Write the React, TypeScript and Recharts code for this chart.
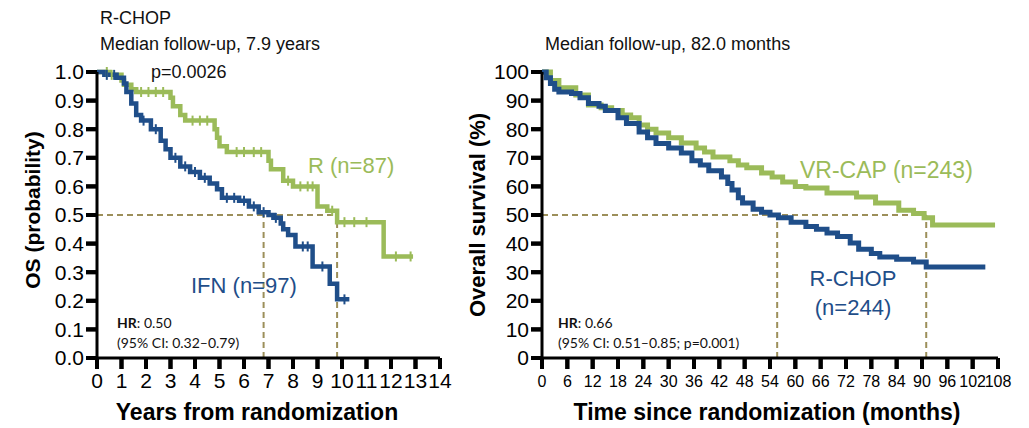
import React from 'react';
import { ComposedChart, Line, Scatter, XAxis, YAxis, ReferenceLine } from 'recharts';

// ---------- Left panel (years, probability) ----------
const leftXTicks = [0, 1, 2, 3, 4, 5, 6, 7, 8, 9, 10, 11, 12, 13, 14];
const leftYTicks = [0, 0.1, 0.2, 0.3, 0.4, 0.5, 0.6, 0.7, 0.8, 0.9, 1.0];

const rTimes = [0, 0.5, 1.0, 1.1, 1.4, 1.6, 3.0, 3.1, 3.4, 3.6, 4.8, 4.9, 5.0, 5.3, 7.0, 7.1, 7.6, 8.0, 9.0, 9.4, 9.8, 11.7, 12.9];
const rSurv = [1.0, 0.99, 0.97, 0.955, 0.94, 0.93, 0.91, 0.88, 0.85, 0.83, 0.8, 0.77, 0.74, 0.72, 0.69, 0.66, 0.62, 0.6, 0.53, 0.515, 0.475, 0.355, 0.355];

const ifnTimes = [0, 0.3, 0.8, 1.1, 1.2, 1.4, 1.6, 1.8, 2.2, 2.6, 2.8, 3.0, 3.4, 3.8, 4.2, 4.6, 4.9, 5.1, 5.8, 6.2, 6.6, 7.0, 7.2, 7.5, 7.6, 7.8, 8.1, 8.8, 9.5, 9.8, 10.3];
const ifnSurv = [1.0, 0.99, 0.98, 0.96, 0.93, 0.89, 0.85, 0.83, 0.8, 0.76, 0.73, 0.7, 0.67, 0.65, 0.63, 0.61, 0.59, 0.56, 0.55, 0.53, 0.51, 0.5, 0.49, 0.47, 0.45, 0.43, 0.39, 0.32, 0.26, 0.205, 0.205];

const rCensorT = [0.4, 0.6, 1.8, 2.1, 2.4, 2.7, 3.9, 4.2, 4.5, 5.7, 6.0, 6.4, 6.7, 7.8, 8.3, 8.6, 8.8, 9.6, 10.1, 10.5, 11.0, 12.2, 12.8];
const rCensorS = [1.0, 0.99, 0.93, 0.93, 0.93, 0.93, 0.83, 0.83, 0.83, 0.72, 0.72, 0.72, 0.72, 0.62, 0.6, 0.6, 0.6, 0.515, 0.475, 0.475, 0.475, 0.355, 0.355];
const ifnCensorT = [0.4, 0.7, 1.9, 2.4, 3.2, 3.6, 4.0, 4.4, 5.3, 5.6, 6.0, 6.4, 6.8, 7.3, 8.4, 8.6, 9.2, 10.1];
const ifnCensorS = [0.99, 0.99, 0.83, 0.8, 0.7, 0.67, 0.65, 0.63, 0.56, 0.56, 0.55, 0.53, 0.51, 0.49, 0.39, 0.39, 0.32, 0.205];

// ---------- Right panel (months, %) ----------
const rightXTicks = [0, 6, 12, 18, 24, 30, 36, 42, 48, 54, 60, 66, 72, 78, 84, 90, 96, 102, 108];
const rightYTicks = [0, 10, 20, 30, 40, 50, 60, 70, 80, 90, 100];

const vrTimes = [0, 2, 4, 8, 11, 14, 16.5, 19, 21, 23, 25, 27, 30, 33, 36.5, 38.5, 40.5, 44.5, 46.5, 48.5, 52, 54.5, 57, 60, 62.5, 67.5, 74.5, 79, 84.5, 88, 90.5, 92.5, 107.3];
const vrSurv = [100, 97, 94.5, 92, 88.5, 87.5, 86.5, 85, 84, 81.5, 80, 78.7, 77, 75.2, 73.4, 72, 70.3, 69, 67.5, 66.5, 64.7, 63.3, 61.5, 60, 59.4, 57.7, 56.3, 54.2, 51.7, 50.5, 49, 46.5, 46.5];

const rchopTimes = [0, 1, 2, 3, 4, 7, 9, 11, 13.5, 15, 18, 20, 23, 25, 27, 30, 33, 35.5, 37.5, 39.5, 42.5, 44, 45, 46.5, 47.5, 50, 52, 54, 56, 59, 62.5, 65, 67.5, 70, 73, 75, 78, 80, 84, 88, 91, 105];
const rchopSurv = [100, 98, 96, 94, 93, 92.5, 91, 89, 88, 86.5, 84, 82, 79, 77, 75, 73.4, 71.7, 69, 67.5, 65.5, 63.3, 61, 58.7, 56, 54.2, 52, 51, 50, 49, 47.5, 46, 45, 43.7, 42.5, 40.2, 38, 36.5, 35.3, 34.5, 33.6, 31.8, 31.8];

const GREEN = '#9bbb59';
const BLUE = '#1f4e89';
const DASH = '#9c8f5a';
const FONT = '"Liberation Sans", Arial, sans-serif';

const zip = (ts: number[], ss: number[]) => ts.map((t, i) => ({ t, s: ss[i] }));

const rData = zip(rTimes, rSurv);
const ifnData = zip(ifnTimes, ifnSurv);
const rCens = zip(rCensorT, rCensorS);
const ifnCens = zip(ifnCensorT, ifnCensorS);
const vrData = zip(vrTimes, vrSurv);
const rchopData = zip(rchopTimes, rchopSurv);

const censorShape = (color: string) => (props: any) => {
  const { cx, cy } = props;
  if (cx == null || cy == null) return <g />;
  return <line x1={cx} x2={cx} y1={cy - 5} y2={cy + 5} stroke={color} strokeWidth={2} />;
};

const TICK_SIZE = 11;
const X_MARGIN_L = 4;
const X_MARGIN_R = 7;
const Y_MARGIN = 2;

const makeXTick = (fontSize: number, margin: number, fmt?: (v: number) => string) => (props: any) => {
  const { x, y, payload } = props;
  const top = y - margin - TICK_SIZE;
  return (
    <g>
      <line x1={x} x2={x} y1={top} y2={top + TICK_SIZE} stroke="#000" strokeWidth={4} />
      <text x={x} y={y} dy="0.71em" textAnchor="middle" fontSize={fontSize} fontFamily={FONT} fill="#000">
        {fmt ? fmt(payload.value) : payload.value}
      </text>
    </g>
  );
};

const makeYTick = (fontSize: number, fmt?: (v: number) => string) => (props: any) => {
  const { x, y, payload } = props;
  const left = x + Y_MARGIN;
  return (
    <g>
      <line x1={left} x2={left + TICK_SIZE} y1={y} y2={y} stroke="#000" strokeWidth={4} />
      <text x={x} y={y} dy="0.355em" textAnchor="end" fontSize={fontSize} fontFamily={FONT} fill="#000">
        {fmt ? fmt(payload.value) : payload.value}
      </text>
    </g>
  );
};

const axisStyle = { stroke: '#000', strokeWidth: 3 };
const tickLineStyle = { stroke: '#000', strokeWidth: 4 };

export default function App() {
  return (
    <div style={{ position: 'absolute', left: 0, top: 0, width: 1029, height: 428, background: '#fff', fontFamily: FONT }}>
      <div style={{ position: 'absolute', left: 0, top: 0 }}>
        <ComposedChart width={460} height={428} margin={{ top: 72, right: 20, bottom: 20, left: 37 }}>
          <XAxis
            type="number"
            dataKey="t"
            domain={[0, 14]}
            ticks={leftXTicks}
            interval={0}
            height={50}
            allowDataOverflow
            axisLine={axisStyle}
            tickLine={tickLineStyle}
            tickSize={TICK_SIZE}
            tickMargin={X_MARGIN_L}
            tick={makeXTick(21, X_MARGIN_L)}
          />
          <YAxis
            type="number"
            dataKey="s"
            domain={[0, 1]}
            ticks={leftYTicks}
            interval={0}
            width={60}
            axisLine={axisStyle}
            tickLine={tickLineStyle}
            tickSize={TICK_SIZE}
            tickMargin={Y_MARGIN}
            tick={makeYTick(21, (v: number) => v.toFixed(1))}
          />
          <ReferenceLine segment={[{ x: 0, y: 0.5 }, { x: 9.8, y: 0.5 }]} stroke={DASH} strokeWidth={2} strokeDasharray="6 4" />
          <ReferenceLine segment={[{ x: 6.8, y: 0 }, { x: 6.8, y: 0.5 }]} stroke={DASH} strokeWidth={2} strokeDasharray="6 4" />
          <ReferenceLine segment={[{ x: 9.8, y: 0 }, { x: 9.8, y: 0.5 }]} stroke={DASH} strokeWidth={2} strokeDasharray="6 4" />
          <Line data={rData} dataKey="s" type="stepAfter" stroke={GREEN} strokeWidth={4.5} dot={false} isAnimationActive={false} />
          <Line data={ifnData} dataKey="s" type="stepAfter" stroke={BLUE} strokeWidth={4.5} dot={false} isAnimationActive={false} />
          <Scatter data={rCens} dataKey="s" shape={censorShape(GREEN)} isAnimationActive={false} />
          <Scatter data={ifnCens} dataKey="s" shape={censorShape(BLUE)} isAnimationActive={false} />
        </ComposedChart>
      </div>
      <div style={{ position: 'absolute', left: 460, top: 0 }}>
        <ComposedChart width={569} height={428} margin={{ top: 72, right: 31, bottom: 20, left: 22 }}>
          <XAxis
            type="number"
            dataKey="t"
            domain={[0, 108]}
            ticks={rightXTicks}
            interval={0}
            height={50}
            allowDataOverflow
            axisLine={axisStyle}
            tickLine={tickLineStyle}
            tickSize={TICK_SIZE}
            tickMargin={X_MARGIN_R}
            tick={makeXTick(16, X_MARGIN_R)}
          />
          <YAxis
            type="number"
            dataKey="s"
            domain={[0, 100]}
            ticks={rightYTicks}
            interval={0}
            width={60}
            axisLine={axisStyle}
            tickLine={tickLineStyle}
            tickSize={TICK_SIZE}
            tickMargin={Y_MARGIN}
            tick={makeYTick(21)}
          />
          <ReferenceLine segment={[{ x: 0, y: 50 }, { x: 91, y: 50 }]} stroke={DASH} strokeWidth={2} strokeDasharray="6 4" />
          <ReferenceLine segment={[{ x: 55.7, y: 0 }, { x: 55.7, y: 50 }]} stroke={DASH} strokeWidth={2} strokeDasharray="6 4" />
          <ReferenceLine segment={[{ x: 91, y: 0 }, { x: 91, y: 50 }]} stroke={DASH} strokeWidth={2} strokeDasharray="6 4" />
          <Line data={vrData} dataKey="s" type="stepAfter" stroke={GREEN} strokeWidth={5} dot={false} isAnimationActive={false} />
          <Line data={rchopData} dataKey="s" type="stepAfter" stroke={BLUE} strokeWidth={5} dot={false} isAnimationActive={false} />
        </ComposedChart>
      </div>
      <svg width={1029} height={428} style={{ position: 'absolute', left: 0, top: 0, pointerEvents: 'none' }}>
        <g fontFamily={FONT} fill="#111">
          <text x={100} y={24} fontSize={18}>R-CHOP</text>
          <text x={100} y={50} fontSize={18}>Median follow-up, 7.9 years</text>
          <text x={151} y={78} fontSize={18}>p=0.0026</text>
          <text x={545} y={50} fontSize={18}>Median follow-up, 82.0 months</text>
          <text x={308} y={173} fontSize={22} fill={GREEN}>R (n=87)</text>
          <text x={191} y={293} fontSize={22} fill={BLUE}>IFN (n=97)</text>
          <text x={800} y={178} fontSize={23} fill={GREEN}>VR-CAP (n=243)</text>
          <text x={853} y={286} fontSize={22} fill={BLUE} textAnchor="middle">R-CHOP</text>
          <text x={853} y={315} fontSize={22} fill={BLUE} textAnchor="middle">(n=244)</text>
          <text x={257} y={420} fontSize={23} fontWeight="bold" textAnchor="middle" fill="#000">Years from randomization</text>
          <text x={767} y={420} fontSize={23} fontWeight="bold" textAnchor="middle" fill="#000">Time since randomization (months)</text>
          <text transform="translate(40,210) rotate(-90)" fontSize={21} fontWeight="bold" textAnchor="middle" fill="#000">OS (probability)</text>
          <text transform="translate(485,215) rotate(-90)" fontSize={22} fontWeight="bold" textAnchor="middle" fill="#000">Overall survival (%)</text>
        </g>
        <g fontFamily="Lato, 'Open Sans', sans-serif" fontSize={14} fill="#111">
          <text x={117} y={328}><tspan fontWeight="bold">HR</tspan>: 0.50</text>
          <text x={117} y={348}>(95% CI: 0.32–0.79)</text>
          <text x={558} y={328}><tspan fontWeight="bold">HR</tspan>: 0.66</text>
          <text x={558} y={348}>(95% CI: 0.51–0.85; p=0.001)</text>
        </g>
      </svg>
    </div>
  );
}
